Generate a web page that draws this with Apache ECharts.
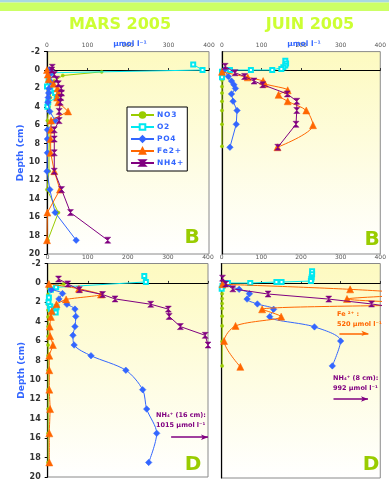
<!DOCTYPE html>
<html>
<head>
<meta charset="utf-8">
<script src="https://cdn.jsdelivr.net/npm/echarts@6/dist/echarts.min.js"></script>
<style>
html,body{margin:0;padding:0;background:#fff;}
#c{width:389px;height:481px;}
</style>
</head>
<body>
<div id="c"></div>
<script>
// ---- data: [concentration (µmol l-1), depth (cm)] ----
const seriesNames = ['NO3', 'O2', 'PO4', 'Fe2+', 'NH4+'];
const panelTitles = ['MARS 2005', 'JUIN 2005'];
const panelLetters = ['B', 'B', 'D', 'D'];
const xTicks = [0, 100, 200, 300, 400];
const depthTicks = [-2, 0, 2, 4, 6, 8, 10, 12, 14, 16, 18, 20];

// MARS 2005 - B
const marsB_NO3 = [[135,0.2],[39,0.6],[18,1.2],[10,2],[8,3],[5,4],[1,5.5],[6,7.5],[5,9],[5,11],[0,13],[28,15.5],[2,18.5]];
const marsB_O2 = [[361,-0.6],[384,0],[10,0.3],[4,1],[0,1.8],[8,2.2],[20,2.5],[24,3],[3,3.5],[1,4]];
const marsB_PO4 = [[5,0],[6,0.5],[10,1.3],[5,2],[4,2.5],[3,3],[2,3.5],[7,4.5],[20,5.5],[1,6.5],[1,7.5],[1,9],[0,11],[7,13],[20,15.5],[72,18.5]];
const marsB_Fe = [[0,0],[2,0.5],[4,1],[16,1.5],[26,2],[28,2.5],[25,3],[28,3.5],[52,4.5],[10,5.5],[10,6.5],[9,7.5],[9,9],[18,11],[32,13],[1,15.5],[0,18.5]];
const marsB_NH4 = [[13,-0.3],[12,0],[18,0.5],[24,1],[28,1.5],[35,2],[36,2.5],[34,3],[33,3.5],[30,4.5],[30,5.5],[18,6.5],[18,7.5],[18,9],[18,11],[36,13],[58,15.5],[150,18.5]];

// JUIN 2005 - B
const juinB_NO3 = [[0,0],[0,1.1],[0,1.8],[0,2.5],[0,3.4],[0,4.4],[0,5.9],[0,8.3]];
const juinB_O2 = [[160,-1],[162,-0.7],[160,-0.5],[155,-0.3],[150,-0.1],[127,0],[73,0],[20,0],[0,0.2],[0,0.5],[0,0.8]];
const juinB_PO4 = [[5,0],[16,0.7],[24,1.2],[30,1.6],[34,2],[24,2.6],[28,3.4],[38,4.4],[36,5.9],[20,8.4]];
const juinB_Fe = [[0,0.2],[65,0.8],[104,1.2],[108,1.5],[166,2.2],[143,2.7],[166,3.4],[213,4.4],[230,6],[140,8.4]];
const juinB_NH4 = [[8,-0.4],[33,0.3],[57,0.7],[81,1.2],[103,1.6],[165,2.6],[189,3.4],[189,4.4],[187,5.9],[141,8.4]];

// MARS 2005 - D
const marsD_NO3 = [[40,0.1],[2,0.6],[1,1.2],[1,1.7],[0,2.2],[1,2.8],[1,3.5],[1,4.5],[1,5.5],[1,6.4],[1,7.5],[1,9],[1,11],[1,13],[1,15.5],[1,18.5]];
const marsD_O2 = [[241,-0.7],[245,-0.1],[21,0.45],[8,0.7],[3,1.5],[2,2],[6,2.4],[22,2.5],[8,2.7],[20,3.05]];
const marsD_PO4 = [[9,0.7],[37,1.1],[28,1.65],[48,2.2],[68,2.7],[70,3.45],[68,4.5],[63,5.4],[66,6.4],[108,7.5],[195,9],[237,11],[247,13],[272,15.5],[252,18.5]];
const marsD_Fe = [[3,0.1],[78,0.6],[133,1.2],[46,1.7],[22,2.2],[10,2.9],[8,3.5],[5,4.5],[6,5.5],[13,6.4],[4,7.5],[4,9],[4,11],[6,13],[4,15.5],[4,18.5]];
const marsD_NH4 = [[27,-0.4],[50,0.1],[79,0.7],[137,1.2],[168,1.65],[257,2.2],[301,2.7],[303,3.45],[331,4.5],[393,5.4],[400,6.4]];

// JUIN 2005 - D
const juinD_NO3 = [[2,0.1],[1,0.6],[1,1.1],[1,1.6],[1,2.1],[1,2.6],[1,3.4],[1,4.4],[1,6],[1,8.5]];
const juinD_O2 = [[228,-1.2],[228,-0.9],[227,-0.6],[226,-0.4],[225,-0.2],[151,-0.1],[138,-0.1],[72,0],[16,0],[2,0.3],[0,0.6]];
const juinD_PO4 = [[5,0.1],[44,0.65],[70,1.1],[64,1.65],[90,2.15],[131,2.7],[121,3.45],[234,4.5],[300,5.95],[279,8.5]];
const juinD_Fe = [[2,0.13],[324,0.65],[480,1.13],[316,1.64],[520,2.15],[102,2.7],[150,3.45],[35,4.4],[6,5.95],[47,8.6]];
const juinD_NH4 = [[2,-0.5],[10,0.1],[28,0.6],[117,1.13],[270,1.65],[378,2.15],[470,2.7]];

// off-scale annotations: [from conc, to conc, depth]
const marsD_NH4_arrow = [308, 400, 15.9];
const juinD_Fe_arrow = [297, 370, 5.17];
const juinD_NH4_arrow = [282, 369, 11.9];

// ---- styles ----
const FONT = 'DejaVu Sans';
const styles = {
  'NO3':  {symbol:'circle', size:3.2, color:'#99cc00'},
  'O2':   {symbol:'emptyRect', size:4, color:'#00e8f0'},
  'PO4':  {symbol:'diamond', size:6.5, color:'#3366ff'},
  'Fe2+': {symbol:'triangle', size:7, color:'#ff6600'},
  'NH4+': {symbol:'path://M0,0L10,0L5,5L10,10L0,10L5,5Z', size:6, color:'#800080'}
};
const panels = [
  {data:[marsB_NO3, marsB_O2, marsB_PO4, marsB_Fe, marsB_NH4], smooth:[false,false,false,false,false]},
  {data:[juinB_NO3, juinB_O2, juinB_PO4, juinB_Fe, juinB_NH4], smooth:[false,false,false,0.3,false]},
  {data:[marsD_NO3, marsD_O2, marsD_PO4, marsD_Fe, marsD_NH4], smooth:[false,false,0.3,0.2,false]},
  {data:[juinD_NO3, juinD_O2, juinD_PO4, juinD_Fe, juinD_NH4], smooth:[false,false,0.3,0.3,false]}
];
const gridBoxes = [
  {left:47, top:51.6, width:162, height:202.4},
  {left:222, top:51.6, width:162, height:202.4},
  {left:47.7, top:263.5, width:160.3, height:214.5},
  {left:221.7, top:263.5, width:163.3, height:214.5}
];
const bg = {type:'linear', x:0, y:0, x2:0, y2:1, colorStops:[{offset:0,color:'#fdfac0'},{offset:1,color:'#ffffff'}]};

const grid = gridBoxes.map(g => Object.assign({show:true, backgroundColor:bg, borderColor:'#8a8a8a', borderWidth:1, containLabel:false}, g));

const xAxis = gridBoxes.map((g,i) => ({
  type:'value', gridIndex:i, min:xTicks[0], max:xTicks[xTicks.length-1], interval:xTicks[1]-xTicks[0],
  position:'top',
  axisLine:{show:true, onZero:true, lineStyle:{color:'#000', width:1}},
  axisTick:{show:true, length:2, lineStyle:{color:'#333'}},
  axisLabel:{fontSize:6, color:'#555', margin:3, fontFamily:FONT},
  splitLine:{show:false}
}));

const yAxis = gridBoxes.map((g,i) => {
  const left = (i % 2 === 0);
  return {
    type:'value', gridIndex:i, inverse:true,
    min:depthTicks[0], max:depthTicks[depthTicks.length-1], interval:depthTicks[1]-depthTicks[0],
    axisLine:{show:true, onZero:false, lineStyle:{color:'#000', width:1.2}},
    axisTick:{show:left, length:3, lineStyle:{color:'#000'}},
    axisLabel:{show:left, fontSize:8, fontWeight:'bold', color:'#333', margin:7, fontFamily:FONT},
    splitLine:{show:false},
    name: left ? 'Depth (cm)' : '',
    nameLocation:'middle', nameRotate:90, nameGap:20,
    nameTextStyle:{color:'#3366ff', fontSize:9, fontWeight:'bold', fontFamily:FONT}
  };
});

const series = [];
panels.forEach((p, gi) => {
  p.data.forEach((d, si) => {
    const name = seriesNames[si];
    const st = styles[name];
    series.push({
      type:'line', name:name, xAxisIndex:gi, yAxisIndex:gi, data:d,
      smooth:p.smooth[si], symbol:st.symbol, symbolSize:st.size, showAllSymbol:true,
      lineStyle:{color:st.color, width:1},
      itemStyle:{color:st.color, borderColor:st.color, borderWidth: name==='O2'?1:0.5},
      emphasis:{disabled:true}, silent:true, clip:true, z:2+si
    });
  });
});

function arrowLine(a, color) {
  return {silent:true, symbol:['none','arrow'], symbolSize:[4,7], animation:false,
    label:{show:false}, lineStyle:{color:color, width:1.5, type:'solid'},
    emphasis:{disabled:true},
    data:[[{coord:[a[0], a[2]]},{coord:[a[1], a[2]]}]]};
}
series[2*5 + 4].markLine = arrowLine(marsD_NH4_arrow, '#800080');
series[3*5 + 3].markLine = arrowLine(juinD_Fe_arrow, '#ff6600');
series[3*5 + 4].markLine = arrowLine(juinD_NH4_arrow, '#800080');

function txt(text, x, y, size, color, align, weight) {
  return {type:'text', silent:true, z:50, style:{text:text, x:x, y:y, fill:color, fontSize:size,
    fontWeight:weight||'bold', fontFamily:FONT, textAlign:align||'center', textVerticalAlign:'middle'}};
}

const graphic = [
  {type:'rect', silent:true, z:-10, shape:{x:0,y:0,width:389,height:2.5}, style:{fill:'#a9d8e2'}},
  {type:'rect', silent:true, z:-10, shape:{x:0,y:2.5,width:389,height:8.5}, style:{fill:'#ccff66'}},
  txt(panelTitles[0], 120, 25, 16, '#ccff33'),
  txt(panelTitles[1], 310, 25, 16, '#ccff33'),
  txt('µmol l\u207B\u00B9', 130, 44, 7.5, '#3366ff'),
  txt('µmol l\u207B\u00B9', 304, 44, 7.5, '#3366ff'),
  txt(panelLetters[0], 192, 238, 20, '#99cc00'),
  txt(panelLetters[1], 372, 240, 20, '#99cc00'),
  txt(panelLetters[2], 193, 465, 20, '#99cc00'),
  txt(panelLetters[3], 371, 465, 20, '#99cc00'),
  txt('NH\u2084\u207A (16 cm):', 156, 415, 6.5, '#800080', 'left'),
  txt('1015 µmol l\u207B\u00B9', 156, 425, 6.5, '#800080', 'left'),
  txt('Fe \u00B2\u207A :', 337, 314, 6.5, '#ff6600', 'left'),
  txt('520 µmol l\u207B\u00B9', 337, 324, 6.5, '#ff6600', 'left'),
  txt('NH\u2084\u207A (8 cm):', 333, 378, 6.5, '#800080', 'left'),
  txt('992 µmol l\u207B\u00B9', 333, 388, 6.5, '#800080', 'left')
];

const chart = echarts.init(document.getElementById('c'), null, {renderer:'canvas'});
chart.setOption({
  animation:false,
  backgroundColor:'#ffffff',
  textStyle:{fontFamily:FONT},
  grid:grid, xAxis:xAxis, yAxis:yAxis, series:series, graphic:graphic,
  legend:{
    data:seriesNames, orient:'vertical', left:127, top:107,
    itemWidth:23, itemHeight:7, itemGap:4, itemStyle:{}, selectedMode:false,
    backgroundColor:'#ffffff', borderColor:'#000', borderWidth:1, padding:[4,4,4,3],
    formatter: n => n.split('').join('\u200A'),
    textStyle:{color:'#3366ff', fontSize:7.5, fontWeight:'bold', fontFamily:FONT, padding:[0,0,0,-2]}
  }
});
</script>
</body>
</html>
